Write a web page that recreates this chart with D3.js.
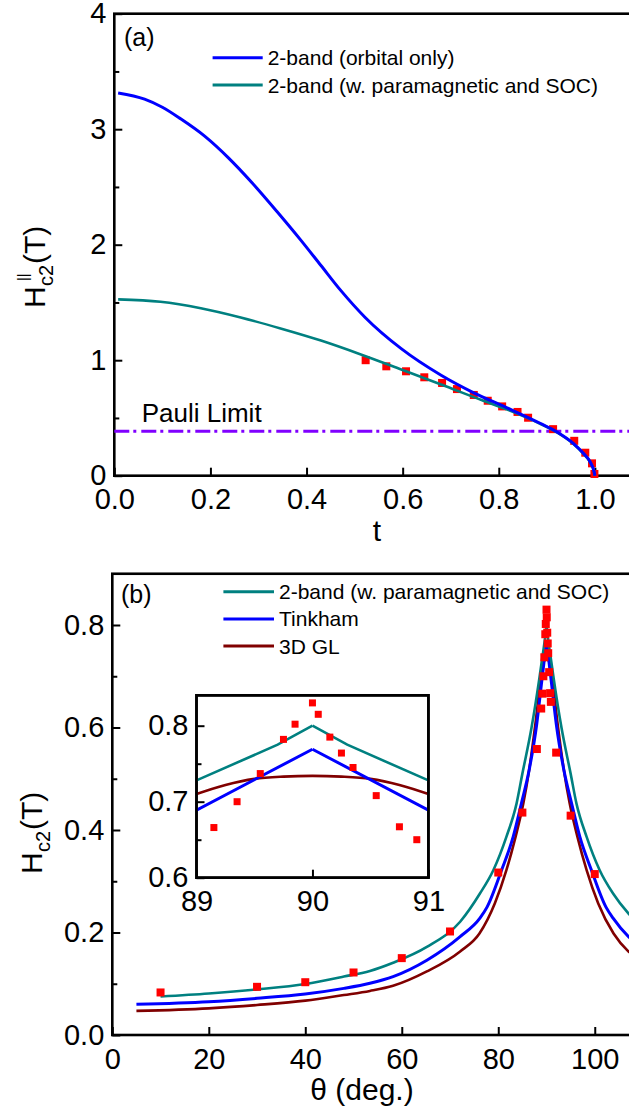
<!DOCTYPE html>
<html><head><meta charset="utf-8">
<script src="https://cdn.jsdelivr.net/npm/d3@7"></script>
<style>
html,body{margin:0;padding:0;background:#fff;}
svg{display:block;font-family:"Liberation Sans",Arial,sans-serif;}
</style></head><body>
<svg id="c" width="629" height="1113"></svg>
<script>
// ---------- Panel (a) data ----------
const topXTicks = [0, 0.2, 0.4, 0.6, 0.8, 1.0];
const topYTicks = [0, 1, 2, 3, 4];
const topYMinor = [0.5, 1.5, 2.5, 3.5];
const orbitalOnly = [[0.008,3.314],[0.063,3.26],[0.1,3.19],[0.138,3.09],[0.188,2.94],[0.238,2.75],[0.288,2.53],[0.338,2.29],[0.388,2.04],[0.43,1.82],[0.472,1.60],[0.522,1.37],[0.597,1.10],[0.68,0.87],[0.747,0.72],[0.816,0.59],[0.886,0.454],[0.92,0.381],[0.955,0.28],[0.976,0.194],[0.99,0.121],[0.998,0.04],[1.0,0]];
const paraSOC = [[0.008,1.527],[0.096,1.506],[0.18,1.45],[0.263,1.37],[0.346,1.275],[0.43,1.17],[0.513,1.05],[0.597,0.92],[0.68,0.79],[0.764,0.655],[0.816,0.575],[0.886,0.45],[0.92,0.378],[0.955,0.277],[0.976,0.19],[0.99,0.118],[0.998,0.04],[1.0,0]];
const topPoints = [[0.523,1.00],[0.566,0.947],[0.607,0.904],[0.645,0.852],[0.682,0.803],[0.713,0.75],[0.748,0.699],[0.777,0.649],[0.807,0.60],[0.839,0.552],[0.861,0.502],[0.913,0.403],[0.957,0.302],[0.98,0.199],[0.994,0.107],[0.999,0.015]];
const pauliLimit = 0.384;
const topLegend = ["2-band (orbital only)", "2-band (w. paramagnetic and SOC)"];

// ---------- Panel (b) data ----------
const botXTicks = [0, 20, 40, 60, 80, 100];
const botYTicks = [0, 0.2, 0.4, 0.6, 0.8];
const botYMinor = [0.1, 0.3, 0.5, 0.7];
const angPoints = [[10,0.083],[30,0.094],[40,0.103],[50,0.122],[60,0.150],[70,0.202],[80,0.317],[85,0.434],[88,0.558],[88.9,0.637],[89.15,0.666],[89.35,0.700],[89.55,0.737],[89.75,0.782],[89.85,0.802],[90.0,0.830],[90.05,0.815],[90.15,0.785],[90.25,0.764],[90.35,0.745],[90.55,0.708],[90.75,0.667],[90.9,0.650],[92,0.551],[95,0.428],[100,0.314]];
const twoBandLeft = [[10,0.075],[20,0.081],[30,0.089],[40,0.0995],[48,0.114],[53.4,0.125],[58.2,0.141],[65.2,0.172],[72.1,0.221],[76.2,0.276],[79,0.322],[81.7,0.387],[83.8,0.452],[85,0.51],[86.9,0.60],[88.5,0.695],[89,0.728],[89.7,0.775],[90,0.80]];
const twoBandRight = [[90,0.80],[90.3,0.775],[91,0.728],[91.5,0.695],[93.1,0.60],[95,0.51],[96.2,0.452],[98.3,0.387],[101,0.322],[103.8,0.276],[107,0.237],[110,0.21]];
const tinkhamLeft = [[5,0.060],[20,0.065],[30,0.0716],[40,0.080],[48,0.091],[53.4,0.101],[58.2,0.114],[65.2,0.146],[72.1,0.192],[76.2,0.228],[77.7,0.25],[80.7,0.322],[83.1,0.387],[84.8,0.452],[86.4,0.517],[87.95,0.605],[89,0.689],[90,0.769]];
const tinkhamRight = [[90,0.769],[91,0.689],[92.05,0.605],[93.6,0.517],[95.2,0.452],[96.9,0.387],[99.3,0.322],[102.3,0.25],[103.8,0.228],[107,0.192],[110,0.17]];
const gl3d = [[5,0.047],[20,0.052],[30,0.0585],[40,0.067],[48,0.078],[53.4,0.086],[58.2,0.096],[65.2,0.124],[72.1,0.163],[76.1,0.198],[79.3,0.257],[81.7,0.322],[83.6,0.387],[85.2,0.452],[86.4,0.517],[87.8,0.615],[89,0.710],[89.25,0.722],[89.5,0.730],[89.75,0.733],[90,0.734],[90.25,0.733],[90.5,0.730],[90.75,0.722],[91,0.710],[92.2,0.615],[93.6,0.517],[94.8,0.452],[96.4,0.387],[98.3,0.322],[100.7,0.257],[103.9,0.198],[107,0.163],[110,0.145]];
const botLegend = ["2-band (w. paramagnetic and SOC)", "Tinkham", "3D GL"];

// inset
const insetXTicks = [89, 90, 91];
const insetYTicks = [0.6, 0.7, 0.8];
const insetYMinor = [0.65, 0.75];

// colours
const cBlue = "#0000FF", cTeal = "#008080", cDark = "#800000", cRed = "#FF0000", cPurple = "#8000FF";

const svg = d3.select("#c");

function styleAxis(g, fs) {
  g.select(".domain").remove();
  g.selectAll(".tick line").attr("stroke", "#000").attr("stroke-width", 2);
  g.selectAll(".tick text").attr("font-size", fs).attr("fill", "#000")
    .attr("font-family", '"Liberation Sans", Arial, sans-serif');
}

function drawPanel(xs, ys, xTicks, yTicks, yMinor, xFmt, yFmt) {
  const g = svg.append("g");
  g.append("g").attr("transform", `translate(0,${ys.range()[0]})`)
    .call(d3.axisBottom(xs).tickValues(xTicks).tickFormat(xFmt).tickSizeInner(-8).tickSizeOuter(0).tickPadding(13))
    .call(a => styleAxis(a, 29));
  g.append("g").attr("transform", `translate(${xs.range()[0]},0)`)
    .call(d3.axisLeft(ys).tickValues(yTicks).tickFormat(yFmt).tickSizeInner(-8).tickSizeOuter(0).tickPadding(8))
    .call(a => styleAxis(a, 29));
  g.append("g").attr("transform", `translate(${xs.range()[0]},0)`)
    .call(d3.axisLeft(ys).tickValues(yMinor).tickFormat("").tickSizeInner(-5).tickSizeOuter(0))
    .call(a => styleAxis(a, 29));
  g.append("rect").attr("x", xs.range()[0]).attr("y", ys.range()[1])
    .attr("width", xs.range()[1] - xs.range()[0]).attr("height", ys.range()[0] - ys.range()[1])
    .attr("fill", "none").attr("stroke", "#000").attr("stroke-width", 2.6);
  return g;
}

function legend(x0, x1, y0, dy, labels, colors, widths) {
  labels.forEach((t, i) => {
    const y = y0 + i * dy;
    svg.append("line").attr("x1", x0).attr("x2", x1).attr("y1", y).attr("y2", y)
      .attr("stroke", colors[i]).attr("stroke-width", widths[i]);
    svg.append("text").attr("x", x1 + 5).attr("y", y + 7.5).attr("font-size", 21).text(t);
  });
}

function squares(g, data, xs, ys, s) {
  g.selectAll(null).data(data).enter().append("rect")
    .attr("x", d => xs(d[0]) - s / 2).attr("y", d => ys(d[1]) - s / 2)
    .attr("width", s).attr("height", s).attr("fill", cRed);
}

// ================= Panel (a) =================
const xa = d3.scaleLinear().domain([0, 1.1]).range([114.3, 642.96]);
const ya = d3.scaleLinear().domain([0, 4]).range([475.7, 13.7]);
const ga = drawPanel(xa, ya, topXTicks, topYTicks, topYMinor, d3.format(".1f"), d3.format("d"));

const lineA = d3.line().x(d => xa(d[0])).y(d => ya(d[1])).curve(d3.curveMonotoneX);

// Pauli limit
ga.append("line").attr("x1", xa(0)).attr("x2", xa(1.1)).attr("y1", ya(pauliLimit)).attr("y2", ya(pauliLimit))
  .attr("stroke", cPurple).attr("stroke-width", 3).attr("stroke-dasharray", "15,4,3,5");
squares(ga, topPoints, xa, ya, 8);
ga.append("path").attr("d", lineA(paraSOC)).attr("fill", "none").attr("stroke", cTeal).attr("stroke-width", 2.6);
ga.append("path").attr("d", lineA(orbitalOnly)).attr("fill", "none").attr("stroke", cBlue).attr("stroke-width", 3);

svg.append("text").attr("x", 141.7).attr("y", 421.7).attr("font-size", 26).text("Pauli Limit");
svg.append("text").attr("x", 124).attr("y", 46).attr("font-size", 25).text("(a)");
legend(212.6, 262.7, 57.7, 27.3, topLegend, [cBlue, cTeal], [3, 3]);
svg.append("text").attr("x", 377).attr("y", 541).attr("font-size", 30).attr("text-anchor", "middle").text("t");

// y label (a): H^{||}_{c2}(T)
{
  const t = svg.append("text").attr("transform", "translate(45,308) rotate(-90)").attr("font-size", 30);
  t.append("tspan").attr("x", 0).attr("y", 0).text("H");
  t.append("tspan").attr("x", 22).attr("y", 8).attr("font-size", 20).text("c2");
  t.append("tspan").attr("x", 27).attr("y", -17).attr("font-size", 14).text("||");
  t.append("tspan").attr("x", 44).attr("y", 0).text("(T)");
}

// ================= Panel (b) =================
const xb = d3.scaleLinear().domain([0, 110]).range([112.3, 643]);
const yb = d3.scaleLinear().domain([0, 0.9]).range([1035, 573.75]);
const gb = drawPanel(xb, yb, botXTicks, botYTicks, botYMinor, d3.format("d"), d3.format(".1f"));
const lineB = d3.line().x(d => xb(d[0])).y(d => yb(d[1])).curve(d3.curveMonotoneX);

gb.append("path").attr("d", lineB(gl3d)).attr("fill", "none").attr("stroke", cDark).attr("stroke-width", 2.6);
[tinkhamLeft, tinkhamRight].forEach(s => gb.append("path").attr("d", lineB(s)).attr("fill", "none").attr("stroke", cBlue).attr("stroke-width", 3));
[twoBandLeft, twoBandRight].forEach(s => gb.append("path").attr("d", lineB(s)).attr("fill", "none").attr("stroke", cTeal).attr("stroke-width", 2.6));
squares(gb, angPoints, xb, yb, 8);

svg.append("text").attr("x", 121).attr("y", 603).attr("font-size", 25).text("(b)");
legend(223.4, 274, 591.7, 27.2, botLegend, [cTeal, cBlue, cDark], [3, 3, 3]);
svg.append("text").attr("x", 362).attr("y", 1100).attr("font-size", 30).attr("text-anchor", "middle").text("θ (deg.)");

{
  const t = svg.append("text").attr("transform", "translate(42,874) rotate(-90)").attr("font-size", 30);
  t.append("tspan").attr("x", 0).attr("y", 0).text("H");
  t.append("tspan").attr("x", 22).attr("y", 8).attr("font-size", 20).text("c2");
  t.append("tspan").attr("x", 44).attr("y", 0).text("(T)");
}

// ================= Inset =================
const xi = d3.scaleLinear().domain([89, 91]).range([196.5, 428.4]);
const yi = d3.scaleLinear().domain([0.6, 0.84]).range([877.7, 695.3]);
svg.append("defs").append("clipPath").attr("id", "insetClip").append("rect")
  .attr("x", xi.range()[0]).attr("y", yi.range()[1])
  .attr("width", xi.range()[1] - xi.range()[0]).attr("height", yi.range()[0] - yi.range()[1]);
svg.append("rect").attr("x", xi.range()[0]).attr("y", yi.range()[1])
  .attr("width", xi.range()[1] - xi.range()[0]).attr("height", yi.range()[0] - yi.range()[1]).attr("fill", "#fff");
const gi = drawPanel(xi, yi, insetXTicks, insetYTicks, insetYMinor, d3.format("d"), d3.format(".1f"));
const lineI = d3.line().x(d => xi(d[0])).y(d => yi(d[1])).curve(d3.curveMonotoneX);
const lineIL = d3.line().x(d => xi(d[0])).y(d => yi(d[1]));
const gic = svg.append("g").attr("clip-path", "url(#insetClip)");
gic.append("path").attr("d", lineI(gl3d)).attr("fill", "none").attr("stroke", cDark).attr("stroke-width", 2.6);
[tinkhamLeft, tinkhamRight].forEach(s => gic.append("path").attr("d", lineIL(s)).attr("fill", "none").attr("stroke", cBlue).attr("stroke-width", 3));
[twoBandLeft, twoBandRight].forEach(s => gic.append("path").attr("d", lineIL(s)).attr("fill", "none").attr("stroke", cTeal).attr("stroke-width", 2.6));
squares(gic, angPoints, xi, yi, 7);
svg.append("rect").attr("x", xi.range()[0]).attr("y", yi.range()[1])
  .attr("width", xi.range()[1] - xi.range()[0]).attr("height", yi.range()[0] - yi.range()[1])
  .attr("fill", "none").attr("stroke", "#000").attr("stroke-width", 2.6);
</script></body></html>
